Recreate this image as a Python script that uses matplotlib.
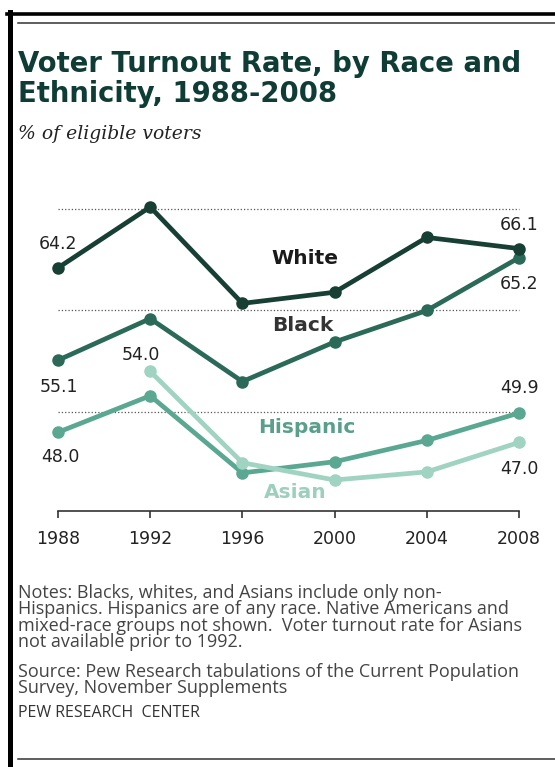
import matplotlib
matplotlib.use("Agg")
import matplotlib.pyplot as plt
from matplotlib.lines import Line2D

# turnout data (% of eligible voters)
years = [1988, 1992, 1996, 2000, 2004, 2008]
white = [64.2, 70.2, 60.7, 61.8, 67.2, 66.1]
black = [55.1, 59.2, 53.0, 56.9, 60.0, 65.2]
hispanic = [48.0, 51.6, 44.0, 45.1, 47.2, 49.9]
asian_years = [1992, 1996, 2000, 2004, 2008]
asian = [54.0, 45.0, 43.3, 44.1, 47.0]
grid_vals = [50, 60, 70]

title_lines = ["Voter Turnout Rate, by Race and", "Ethnicity, 1988-2008"]
subtitle = "% of eligible voters"
notes = ["Notes: Blacks, whites, and Asians include only non-",
         "Hispanics. Hispanics are of any race. Native Americans and",
         "mixed-race groups not shown.  Voter turnout rate for Asians",
         "not available prior to 1992."]
source = ["Source: Pew Research tabulations of the Current Population",
          "Survey, November Supplements"]

W, H = 555, 767
fig = plt.figure(figsize=(W / 100, H / 100), dpi=100)


def fx(px):
    return px / W


def fy(py):
    return 1 - py / H


# frame decoration
fig.add_artist(Line2D([fx(9.5), fx(9.5)], [fy(12), fy(767)], color="black", lw=3.6))
fig.add_artist(Line2D([fx(7), fx(555)], [fy(13.5), fy(13.5)], color="black", lw=2.6))
fig.add_artist(Line2D([fx(18), fx(555)], [fy(22.5), fy(22.5)], color="#333333", lw=1.1))
fig.add_artist(Line2D([fx(18), fx(555)], [fy(759), fy(759)], color="#333333", lw=1.1))

# titles
fig.text(fx(18), fy(72), title_lines[0], fontsize=19.8, fontweight="bold", color="#0f3d36")
fig.text(fx(18), fy(102), title_lines[1], fontsize=19.8, fontweight="bold", color="#0f3d36")
fig.text(fx(18), fy(139), subtitle, fontsize=13.5, style="italic", family="DejaVu Serif", color="#222222")

ax = fig.add_axes([fx(20), fy(511), fx(545) - fx(20), fy(180) - fy(511)])
ax.set_xlim(1986.351, 2009.128)
ax.set_ylim(40.246, 72.857)

ax.hlines(grid_vals, 1988, 2008, colors="#555555", linestyles=":", lw=0.9)

ax.plot(years, hispanic, color="#5aa891", lw=3.4, marker="o", ms=8, solid_capstyle="round")
ax.plot(asian_years, asian, color="#a0d3c2", lw=3.4, marker="o", ms=8, solid_capstyle="round")
ax.plot(years, black, color="#2b6a58", lw=3.4, marker="o", ms=8, solid_capstyle="round")
ax.plot(years, white, color="#173f33", lw=3.4, marker="o", ms=8, solid_capstyle="round")

# value labels at the ends
lab = dict(fontsize=12.5, color="#222222", ha="center", va="center", textcoords="offset points")
ax.annotate(f"{white[0]:.1f}", (years[0], white[0]), xytext=(0, 17), **lab)
ax.annotate(f"{black[0]:.1f}", (years[0], black[0]), xytext=(1, -19), **lab)
ax.annotate(f"{hispanic[0]:.1f}", (years[0], hispanic[0]), xytext=(2, -18), **lab)
ax.annotate(f"{asian[0]:.1f}", (asian_years[0], asian[0]), xytext=(-7, 12), **lab)
ax.annotate(f"{white[-1]:.1f}", (years[-1], white[-1]), xytext=(0, 17), **lab)
ax.annotate(f"{black[-1]:.1f}", (years[-1], black[-1]), xytext=(0, -19), **lab)
ax.annotate(f"{hispanic[-1]:.1f}", (years[-1], hispanic[-1]), xytext=(0, 18), **lab)
ax.annotate(f"{asian[-1]:.1f}", (asian_years[-1], asian[-1]), xytext=(0, -19), **lab)

# series names
name = dict(fontsize=14.5, fontweight="bold", ha="center", va="center")
ax.text(1998.7, 65.1, "White", color="#1a1a1a", **name)
ax.text(1998.6, 58.5, "Black", color="#333333", **name)
ax.text(1998.8, 48.5, "Hispanic", color="#5a9f8c", **name)
ax.text(1998.3, 42.1, "Asian", color="#9ccfbe", **name)

for side in ["top", "right", "left"]:
    ax.spines[side].set_visible(False)
ax.spines["bottom"].set_bounds(1988, 2008)
ax.spines["bottom"].set_color("#333333")
ax.spines["bottom"].set_linewidth(1.2)
ax.set_xticks(years)
ax.set_xticklabels([str(y) for y in years])
ax.set_yticks([])
ax.tick_params(axis="x", direction="out", length=5, width=1.2, color="#333333",
               labelsize=12.5, labelcolor="#222222", pad=8.5)
ax.patch.set_alpha(0)

# notes
for i, line in enumerate(notes):
    fig.text(fx(18), fy(598 + i * 16.4), line, fontsize=13, family="Open Sans", color="#444444")
for i, line in enumerate(source):
    fig.text(fx(18), fy(677 + i * 16.4), line, fontsize=13, family="Open Sans", color="#444444")
fig.text(fx(18), fy(717), "PEW RESEARCH  CENTER", fontsize=11.5, family="Open Sans", color="#333333")

fig.savefig("out.png", dpi=100)
